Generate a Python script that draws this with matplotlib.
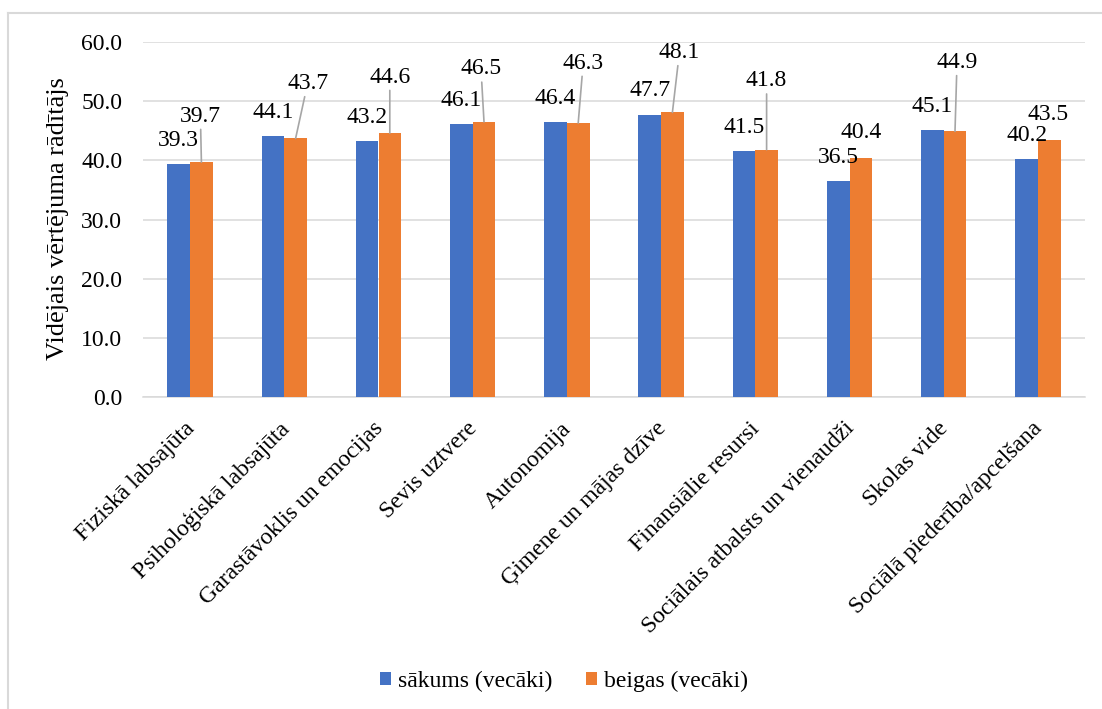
import matplotlib
matplotlib.use("Agg")
import matplotlib.pyplot as plt
from matplotlib.lines import Line2D
import matplotlib.transforms as mtransforms
import numpy as np

plt.rcParams['font.family'] = ['Liberation Serif', 'DejaVu Serif']

categories = ["Fiziskā labsajūta", "Psiholoģiskā labsajūta", "Garastāvoklis un emocijas",
              "Sevis uztvere", "Autonomija", "Ģimene un mājas dzīve", "Finansiālie resursi",
              "Sociālais atbalsts un vienaudži", "Skolas vide", "Sociālā piederība/apcelšana"]
sakums = [39.3, 44.1, 43.2, 46.1, 46.4, 47.7, 41.5, 36.5, 45.1, 40.2]
beigas = [39.7, 43.7, 44.6, 46.5, 46.3, 48.1, 41.8, 40.4, 44.9, 43.5]
series_names = ["sākums (vecāki)", "beigas (vecāki)"]
yticks = [0, 10, 20, 30, 40, 50, 60]

# label offsets in pixels (dx, dy) from the bar top centre; leader line when far
blue_off = [(0, 24)] * 10
orange_off = [(-1, 46), (12, 55), (0, 56), (-3, 53), (5, 60), (7, 60), (0, 69),
              (0, 25), (2, 69), (-1, 25)]

BLUE = "#4472C4"
ORANGE = "#ED7D31"
GRID = "#D9D9D9"
FS = 17

fig = plt.figure(figsize=(11.02, 7.09), dpi=100)
ax = fig.add_axes([143/1102, 1-397/709, (1085-143)/1102, (397-42)/709])

x = np.arange(len(categories))
w = 0.24
ax.bar(x - w/2, sakums, w, color=BLUE, label=series_names[0], zorder=3)
ax.bar(x + w/2, beigas, w, color=ORANGE, label=series_names[1], zorder=3)

ax.set_ylim(0, 60)
ax.set_xlim(-0.5, len(categories) - 0.5)
ax.set_yticks(yticks)
ax.set_yticklabels([f"{v:.1f}" for v in yticks], fontsize=FS)
ax.yaxis.grid(True, color=GRID, linewidth=1.1, zorder=0)
ax.tick_params(axis='y', length=0, pad=15)
ax.tick_params(axis='x', length=0, pad=8)
for s in ["top", "right", "left"]:
    ax.spines[s].set_visible(False)
ax.spines["bottom"].set_color(GRID)
ax.spines["bottom"].set_linewidth(1.1)
ax.set_xticks(x)
ax.set_xticklabels(categories, rotation=45, ha='right', rotation_mode='anchor', fontsize=FS)
shift = mtransforms.ScaledTranslation(-6/100, -10/100, fig.dpi_scale_trans)
for lab in ax.get_xticklabels():
    lab.set_transform(lab.get_transform() + shift)

def label(xc, val, off):
    dx, dy = off
    kw = {}
    if dy > 35:
        kw['arrowprops'] = dict(arrowstyle='-', color='#A6A6A6', lw=1.2,
                                shrinkA=0, shrinkB=0)
    ax.annotate(f"{val:.1f}", xy=(xc, val), xytext=(dx, dy), textcoords='offset pixels',
                ha='center', va='center', fontsize=FS, zorder=5, **kw)

for i in range(len(categories)):
    label(x[i] - w/2, sakums[i], blue_off[i])
    label(x[i] + w/2, beigas[i], orange_off[i])

fig.text(58/1102, 1-218.5/709, "Vidējais vērtējuma rādītājs", rotation=90,
         ha='center', va='center', fontsize=19)

fig.legend(loc='center', bbox_to_anchor=(564/1102, 1-681/709), ncol=2, frameon=False,
           fontsize=FS, handlelength=0.47, handleheight=0.47, handletextpad=0.3,
           columnspacing=1.4)

# chart border (top and left visible)
fig.add_artist(Line2D([8/1102, 8/1102], [0, 1-13/709], color=GRID, lw=1.5, transform=fig.transFigure))
fig.add_artist(Line2D([8/1102, 1], [1-13/709, 1-13/709], color=GRID, lw=1.5, transform=fig.transFigure))

fig.savefig("out.png", dpi=100)
